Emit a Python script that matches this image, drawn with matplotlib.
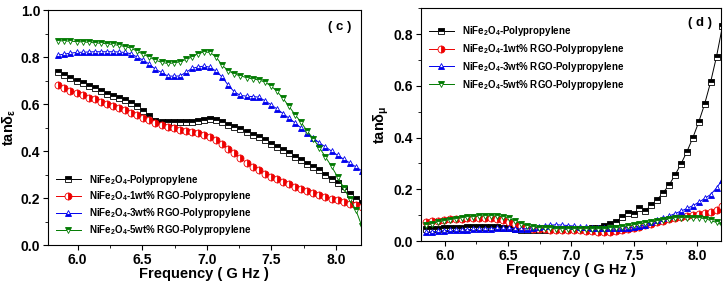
import numpy as np
import matplotlib
matplotlib.use("Agg")
import matplotlib.pyplot as plt
from matplotlib.ticker import MultipleLocator

plt.rcParams['font.family'] = ['Liberation Sans', 'DejaVu Sans']
plt.rcParams['font.weight'] = 'bold'
plt.rcParams['mathtext.fontset'] = 'custom'
plt.rcParams['mathtext.rm'] = 'Liberation Sans:bold'
plt.rcParams['mathtext.it'] = 'Liberation Sans:bold'
plt.rcParams['mathtext.bf'] = 'Liberation Sans:bold'
plt.rcParams['mathtext.default'] = 'regular'

# frequency points (GHz)
freq = np.linspace(5.85, 8.2, 51)

labels = ["NiFe$_2$O$_4$-Polypropylene",
          "NiFe$_2$O$_4$-1wt% RGO-Polypropylene",
          "NiFe$_2$O$_4$-3wt% RGO-Polypropylene",
          "NiFe$_2$O$_4$-5wt% RGO-Polypropylene"]

# dielectric loss tangent (c)
eps_pp = [0.738, 0.725, 0.71, 0.698, 0.688, 0.677, 0.667, 0.656, 0.645, 0.635,
          0.626, 0.616, 0.605, 0.59, 0.57, 0.548, 0.53, 0.523, 0.525, 0.524,
          0.522, 0.523, 0.525, 0.528, 0.532, 0.535, 0.534, 0.525, 0.513, 0.502,
          0.493, 0.483, 0.47, 0.458, 0.446, 0.432, 0.418, 0.405, 0.39, 0.373,
          0.36, 0.347, 0.333, 0.318, 0.3, 0.283, 0.263, 0.24, 0.218, 0.198, 0.18]
eps_1 = [0.68, 0.668, 0.657, 0.648, 0.638, 0.628, 0.62, 0.61, 0.6, 0.592,
         0.582, 0.573, 0.563, 0.552, 0.542, 0.531, 0.52, 0.512, 0.504, 0.497,
         0.49, 0.485, 0.481, 0.476, 0.47, 0.462, 0.448, 0.43, 0.41, 0.39,
         0.37, 0.35, 0.333, 0.318, 0.302, 0.29, 0.28, 0.27, 0.26, 0.248,
         0.237, 0.228, 0.22, 0.212, 0.204, 0.197, 0.19, 0.183, 0.176, 0.17, 0.163]
eps_3 = [0.809, 0.813, 0.817, 0.82, 0.821, 0.822, 0.823, 0.823, 0.823, 0.823,
         0.822, 0.82, 0.814, 0.8, 0.787, 0.77, 0.748, 0.735, 0.72, 0.719,
         0.72, 0.735, 0.752, 0.758, 0.762, 0.757, 0.74, 0.715, 0.68, 0.652,
         0.637, 0.634, 0.632, 0.63, 0.615, 0.598, 0.58, 0.56, 0.54, 0.52,
         0.498, 0.476, 0.455, 0.435, 0.418, 0.4, 0.382, 0.366, 0.35, 0.333, 0.316]
eps_5 = [0.87, 0.869, 0.868, 0.866, 0.865, 0.863, 0.861, 0.859, 0.857, 0.854,
         0.85, 0.845, 0.838, 0.825, 0.812, 0.8, 0.787, 0.778, 0.773, 0.775,
         0.78, 0.79, 0.8, 0.815, 0.822, 0.82, 0.8, 0.765, 0.742, 0.728,
         0.72, 0.713, 0.707, 0.703, 0.694, 0.678, 0.655, 0.625, 0.59, 0.555,
         0.522, 0.485, 0.452, 0.415, 0.375, 0.335, 0.29, 0.245, 0.195, 0.15, 0.08]

# magnetic loss tangent (d)
mu_pp = [0.045, 0.047, 0.048, 0.049, 0.05, 0.051, 0.052, 0.053, 0.053, 0.054,
         0.054, 0.054, 0.054, 0.052, 0.05, 0.045, 0.043, 0.042, 0.042, 0.043,
         0.044, 0.045, 0.046, 0.046, 0.047, 0.047, 0.048, 0.048, 0.049, 0.05,
         0.058, 0.068, 0.072, 0.092, 0.108, 0.104, 0.128, 0.118, 0.138, 0.16,
         0.187, 0.217, 0.255, 0.298, 0.345, 0.399, 0.46, 0.53, 0.614, 0.713, 0.83]
mu_1 = [0.072, 0.076, 0.079, 0.082, 0.084, 0.086, 0.087, 0.088, 0.089, 0.089,
        0.089, 0.088, 0.086, 0.082, 0.075, 0.066, 0.058, 0.052, 0.048, 0.046,
        0.045, 0.044, 0.043, 0.042, 0.042, 0.041, 0.041, 0.04, 0.038, 0.037,
        0.036, 0.037, 0.04, 0.044, 0.048, 0.052, 0.056, 0.062, 0.068, 0.074,
        0.079, 0.084, 0.088, 0.092, 0.096, 0.1, 0.104, 0.108, 0.114, 0.122, 0.134]
mu_3 = [0.034, 0.036, 0.038, 0.04, 0.041, 0.042, 0.043, 0.044, 0.045, 0.046,
        0.047, 0.048, 0.049, 0.05, 0.05, 0.048, 0.047, 0.048, 0.052, 0.056,
        0.06, 0.062, 0.063, 0.062, 0.06, 0.058, 0.056, 0.054, 0.052, 0.051,
        0.05, 0.05, 0.05, 0.051, 0.052, 0.054, 0.058, 0.064, 0.072, 0.08,
        0.088, 0.097, 0.106, 0.116, 0.126, 0.137, 0.15, 0.165, 0.18, 0.205, 0.238]
mu_5 = [0.062, 0.068, 0.074, 0.079, 0.083, 0.087, 0.09, 0.093, 0.095, 0.097,
        0.098, 0.098, 0.097, 0.094, 0.088, 0.078, 0.068, 0.06, 0.055, 0.052,
        0.05, 0.049, 0.048, 0.047, 0.046, 0.046, 0.046, 0.046, 0.046, 0.047,
        0.048, 0.05, 0.052, 0.055, 0.058, 0.062, 0.066, 0.07, 0.074, 0.078,
        0.082, 0.085, 0.088, 0.09, 0.091, 0.091, 0.09, 0.087, 0.08, 0.072, 0.062]

colors = ['black', '#ee0000', '#0000ee', '#007a00']
markers = ['s', 'o', '^', 'v']
fills = ['top', 'right', 'bottom', 'top']

fig = plt.figure(figsize=(7.27, 2.82), dpi=100)
ax1 = fig.add_axes([0.066, 0.131, 0.430, 0.833])
ax2 = fig.add_axes([0.579, 0.145, 0.413, 0.826])


def draw(ax, series):
    for y, c, m, f, lab in zip(series, colors, markers, fills, labels):
        ax.plot(freq, y, color=c, marker=m, fillstyle=f, markerfacecoloralt='white',
                markeredgewidth=0.6, markersize=5, linewidth=0.7, label=lab)
    ax.xaxis.set_major_locator(MultipleLocator(0.5))
    ax.xaxis.set_minor_locator(MultipleLocator(0.25))
    ax.yaxis.set_major_locator(MultipleLocator(0.2))
    ax.yaxis.set_minor_locator(MultipleLocator(0.1))
    ax.tick_params(which='both', direction='out', labelsize=10, pad=2)
    ax.tick_params(which='major', length=3.5)
    ax.tick_params(which='minor', length=2)
    for lbl in ax.get_xticklabels() + ax.get_yticklabels():
        lbl.set_fontweight('bold')
    ax.set_xlabel("Frequency ( G Hz )", fontsize=10.5, fontweight='bold', labelpad=0)


draw(ax1, [eps_pp, eps_1, eps_3, eps_5])
ax1.set_xlim(5.77, 8.19)
ax1.set_ylim(0, 1.0)
ax1.set_ylabel(r"tanδ$_ε$", fontsize=10.5, fontweight='bold', labelpad=2)
ax1.text(0.97, 0.93, "( c )", transform=ax1.transAxes, ha='right', va='center',
         fontsize=9.5, fontweight='bold')
ax1.legend(loc='lower left', bbox_to_anchor=(0.0, 0.0), frameon=False,
           handlelength=2.6, labelspacing=0.3, borderaxespad=0.4,
           prop={'weight': 'bold', 'size': 7})

draw(ax2, [mu_pp, mu_1, mu_3, mu_5])
ax2.set_xlim(5.81, 8.19)
ax2.set_ylim(0, 0.9)
ax2.set_ylabel(r"tanδ$_μ$", fontsize=10.5, fontweight='bold', labelpad=2)
ax2.text(0.97, 0.935, "( d )", transform=ax2.transAxes, ha='right', va='center',
         fontsize=9.5, fontweight='bold')
ax2.legend(loc='upper left', bbox_to_anchor=(0.0, 0.965), frameon=False,
           handlelength=2.6, labelspacing=0.4, borderaxespad=0.4,
           prop={'weight': 'bold', 'size': 7})

plt.savefig('out.png', dpi=100)
